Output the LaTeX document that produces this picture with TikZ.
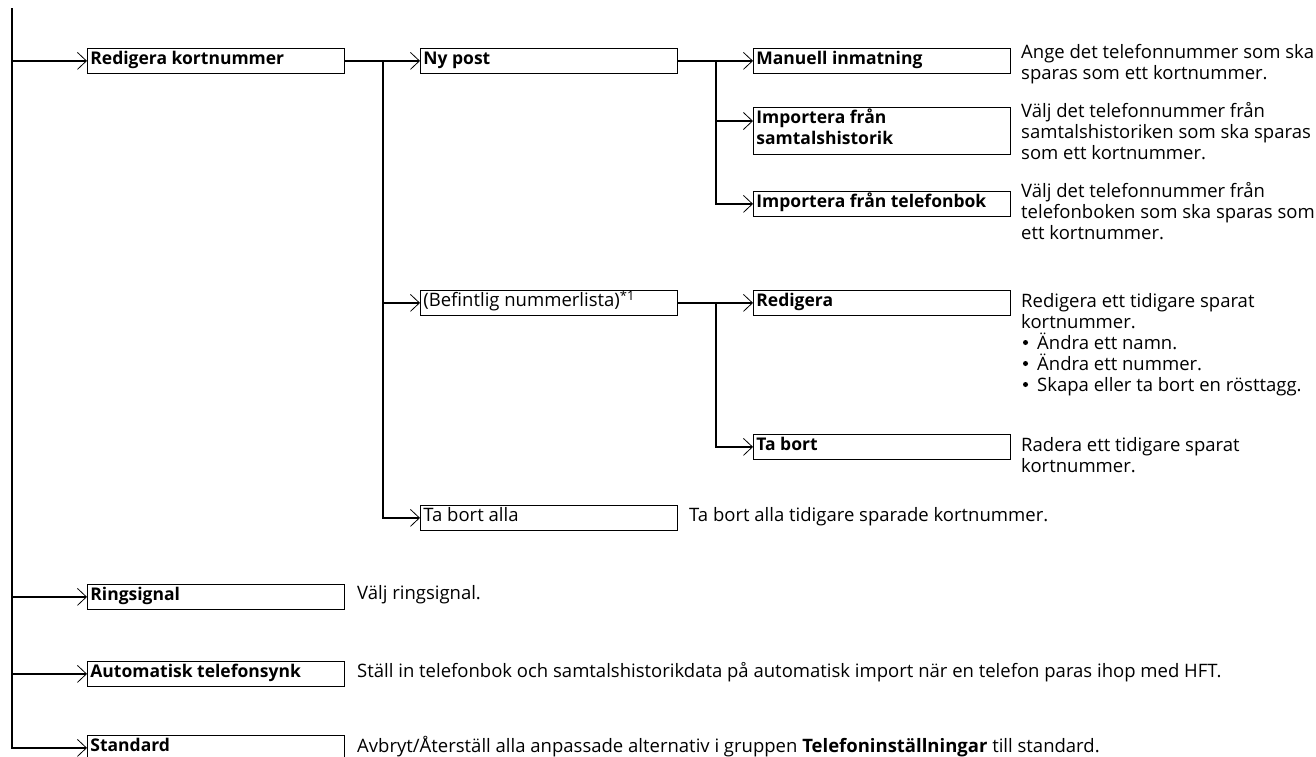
\documentclass[tikz,border=0pt]{standalone}
\usepackage{fontspec}
\setmainfont{Open Sans}
\usetikzlibrary{arrows.meta}
\newcommand{\lbl}[1]{\parbox[t]{251pt}{\raggedright #1}}
\newcommand{\dsc}[1]{\parbox[t]{400pt}{\raggedright #1}}
\newcommand{\bul}{\hspace*{16pt}}
\begin{document}
\begin{tikzpicture}[x=1pt,y=-1pt,
  every node/.style={font=\fontsize{18.5}{21}\selectfont},
  box/.style={draw, line width=0.8pt, anchor=north west, inner xsep=3pt, inner ysep=2pt,
    text height=14pt, text depth=7pt},
  bbox/.style={box, font=\fontsize{17.5}{21}\selectfont\bfseries},
  desc/.style={anchor=base west, inner sep=0pt},
  conn/.style={line width=1.5pt},
  arr/.style={conn, -{Straight Barb[length=9pt,width=17pt,line width=0.8pt]}},
  dot/.style={fill=black}
]
\path[use as bounding box] (0,0) rectangle (1316,756);

% level 1
\node[bbox] (rk)   at (87,48)  {\lbl{Redigera kortnummer}};
\node[bbox] (ring) at (87,584) {\lbl{Ringsignal}};
\node[bbox] (auto) at (87,661) {\lbl{Automatisk telefonsynk}};
\node[bbox] (std)  at (87,735) {\lbl{Standard}};

% level 2
\node[bbox] (np)  at (420,48)  {\lbl{Ny post}};
\node[box]  (bef) at (420,290) {\lbl{(Befintlig nummerlista)\textsuperscript{*1}}};
\node[box]  (tba) at (420,505) {\lbl{Ta bort alla}};

% level 3
\node[bbox] (man) at (753,48)  {\lbl{Manuell inmatning}};
\node[bbox, text depth=28.7pt] (sam) at (753,107) {\lbl{Importera från\\samtalshistorik}};
\node[bbox] (tel) at (753,191) {\lbl{Importera från telefonbok}};
\node[bbox] (red) at (753,290) {\lbl{Redigera}};
\node[bbox] (tb)  at (753,434) {\lbl{Ta bort}};

% descriptions
\node[desc] (dman) at (1021,58)  {\dsc{Ange det telefonnummer som ska\\sparas som ett kortnummer.}};
\node[desc] (dsam) at (1021,117) {\dsc{Välj det telefonnummer från\\samtalshistoriken som ska sparas\\som ett kortnummer.}};
\node[desc] (dtel) at (1021,197) {\dsc{Välj det telefonnummer från\\telefonboken som ska sparas som\\ett kortnummer.}};
\node[desc] (dred) at (1021,307) {\dsc{Redigera ett tidigare sparat\\kortnummer.\\\bul Ändra ett namn.\\\bul Ändra ett nummer.\\\bul Skapa eller ta bort en rösttagg.}};
\node[desc] (dtb)  at (1021,451) {\dsc{Radera ett tidigare sparat\\kortnummer.}};
\node[desc] (dtba) at (689,521)  {Ta bort alla tidigare sparade kortnummer.};
\node[desc] (dring) at (357,599) {Välj ringsignal.};
\node[desc] (dauto) at (357,677) {Ställ in telefonbok och samtalshistorikdata på automatisk import när en telefon paras ihop med HFT.};
\node[desc] (dstd)  at (357,752) {Avbryt/Återställ alla anpassade alternativ i gruppen \textbf{Telefoninställningar} till standard.};

% bullets
\fill[dot] ([xshift=4.5pt,yshift=-35.5pt]dred.base west) circle (2.5pt);
\fill[dot] ([xshift=4.5pt,yshift=-56.5pt]dred.base west) circle (2.5pt);
\fill[dot] ([xshift=4.5pt,yshift=-77.5pt]dred.base west) circle (2.5pt);

% connectors
\coordinate (top) at (12,8);
\draw[arr] (top) |- (std.west);
\draw[arr] (top |- rk.west) -- (rk.west);
\draw[arr] (top |- ring.west) -- (ring.west);
\draw[arr] (top |- auto.west) -- (auto.west);

\draw[arr] (rk.east) -- (np.west);
\coordinate (j1) at ([xshift=38pt]rk.east);
\draw[arr] (j1) |- (bef.west);
\draw[arr] (j1) |- (tba.west);

\draw[arr] (np.east) -- (man.west);
\coordinate (j2) at ([xshift=38pt]np.east);
\coordinate (samin) at ([yshift=-14pt]sam.north west);
\draw[arr] (j2) |- (samin);
\draw[arr] (j2) |- (tel.west);

\draw[arr] (bef.east) -- (red.west);
\coordinate (j3) at ([xshift=38pt]bef.east);
\draw[arr] (j3) |- (tb.west);
\end{tikzpicture}
\end{document}
